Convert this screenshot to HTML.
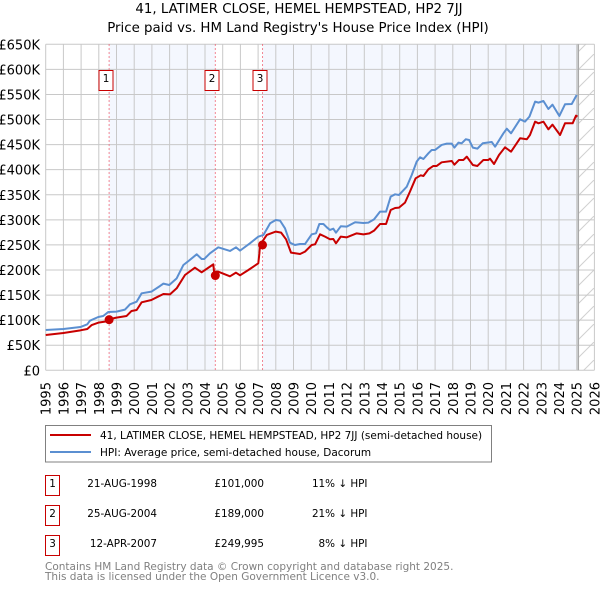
<!DOCTYPE html>
<html lang="en">
<head>
<meta charset="utf-8">
<title>41, Latimer Close price chart</title>
<style>
html,body{margin:0;padding:0;background:#fff;width:600px;height:590px;overflow:hidden}
svg{display:block;font-family:"DejaVu Sans",sans-serif}
text{fill:#000}
</style>
</head>
<body>
<svg id="chart" width="600" height="590" viewBox="0 0 600 590" xmlns="http://www.w3.org/2000/svg">
<defs>
<pattern id="hatch" patternUnits="userSpaceOnUse" width="18" height="18"><path d="M-1,19 L19,-1" stroke="#d0d0d0" stroke-width="1"/></pattern>
<clipPath id="plot-clip"><rect x="45" y="44" width="550" height="327"/></clipPath>
</defs>
<text x="299" y="13" font-size="13.35" text-anchor="middle">41, LATIMER CLOSE, HEMEL HEMPSTEAD, HP2 7JJ</text>
<text x="298" y="32" font-size="13.35" text-anchor="middle">Price paid vs. HM Land Registry's House Price Index (HPI)</text>
<g id="shade"></g>
<g id="grid"></g>
<g id="axes"></g>
<g id="series" clip-path="url(#plot-clip)"></g>
<g id="sales"></g>

<g>
<rect x="45.5" y="425.5" width="446" height="36.5" fill="#fff" stroke="#808080" stroke-width="1"/>
<line x1="50" x2="91" y1="435" y2="435" stroke="#c80000" stroke-width="2"/>
<text x="100" y="439" font-size="10.5">41, LATIMER CLOSE, HEMEL HEMPSTEAD, HP2 7JJ (semi-detached house)</text>
<line x1="50" x2="91" y1="452" y2="452" stroke="#5b8fd1" stroke-width="2"/>
<text x="100" y="456" font-size="10.5">HPI: Average price, semi-detached house, Dacorum</text>
</g>

<g font-size="10.4">
<rect x="45.5" y="475.5" width="14" height="20" fill="#fff" stroke="#c80000"/>
<text x="52.5" y="487" text-anchor="middle">1</text>
<text x="157" y="487" text-anchor="end">21-AUG-1998</text>
<text x="264" y="487" text-anchor="end">£101,000</text>
<text x="367.5" y="487" text-anchor="end">11% ↓ HPI</text>
<rect x="45.5" y="505.5" width="14" height="20" fill="#fff" stroke="#c80000"/>
<text x="52.5" y="517" text-anchor="middle">2</text>
<text x="157" y="517" text-anchor="end">25-AUG-2004</text>
<text x="264" y="517" text-anchor="end">£189,000</text>
<text x="367.5" y="517" text-anchor="end">21% ↓ HPI</text>
<rect x="45.5" y="535.5" width="14" height="20" fill="#fff" stroke="#c80000"/>
<text x="52.5" y="547" text-anchor="middle">3</text>
<text x="157" y="547" text-anchor="end">12-APR-2007</text>
<text x="264" y="547" text-anchor="end">£249,995</text>
<text x="367.5" y="547" text-anchor="end">8% ↓ HPI</text>
</g>

<text x="45" y="570" font-size="10.5" style="fill:#808080">Contains HM Land Registry data © Crown copyright and database right 2025.</text>
<text x="45" y="580" font-size="10.5" style="fill:#808080">This data is licensed under the Open Government Licence v3.0.</text>

<script>
const yearTicks = [1995,1996,1997,1998,1999,2000,2001,2002,2003,2004,2005,2006,2007,2008,2009,2010,2011,2012,2013,2014,2015,2016,2017,2018,2019,2020,2021,2022,2023,2024,2025,2026];
const valueTicks = [0,50,100,150,200,250,300,350,400,450,500,550,600,650];
const valueTickLabels = ["£0","£50K","£100K","£150K","£200K","£250K","£300K","£350K","£400K","£450K","£500K","£550K","£600K","£650K"];

const hpiDates = [1995,1996,1996.96,1997.35,1997.5,1997.97,1998.25,1998.54,1999,1999.48,1999.76,2000.14,2000.42,2000.97,2001.46,2001.65,2001.98,2002.4,2002.78,2003,2003.53,2003.81,2003.96,2004.28,2004.75,2005.41,2005.75,2005.98,2006.54,2007.01,2007.3,2007.68,2008,2008.24,2008.52,2008.8,2009.08,2009.37,2009.65,2010.03,2010.27,2010.46,2010.69,2010.88,2011.06,2011.25,2011.4,2011.67,2012.01,2012.48,2012.95,2013.23,2013.55,2013.89,2014.23,2014.49,2014.74,2014.96,2015.4,2015.68,2015.96,2016.15,2016.34,2016.62,2016.81,2017,2017.37,2017.66,2017.94,2018.09,2018.32,2018.5,2018.73,2018.92,2019.13,2019.39,2019.69,2020.2,2020.39,2020.86,2021.05,2021.29,2021.8,2022.08,2022.33,2022.65,2022.84,2023.12,2023.4,2023.63,2024.02,2024.34,2024.72,2025];
const hpiValues = [80.4,82.4,86.3,91.7,99,106.3,108.3,116.3,117,121,131.5,136.9,153.5,156.8,168.1,172.8,170.1,183.4,210,216,231.3,222,222,233.2,245.2,237.9,245.2,238.6,253.2,266.5,269.8,293.1,299.7,298.4,283.1,254.5,249.9,251.8,251.8,271.1,273.1,291.7,291.7,285.1,279.8,282.4,274.4,287.1,286.4,295.1,293.7,294.4,301,316.3,316.3,346.2,350.9,349.6,366.2,389.4,416,424.7,421.3,432.6,439.3,439.3,449.3,451.9,451.9,444,453.9,452.6,460.6,459.2,444,442,452.6,455.2,445.9,472.5,481.8,472.5,500.4,495.8,505.8,535.7,533.7,537,521,529.7,507.1,530.4,531,549];

const priceDates = [1995,1996,1996.96,1997.35,1997.6,1997.97,1998.35,1998.54,1999,1999.57,1999.85,2000.14,2000.42,2000.97,2001.27,2001.65,2002.02,2002.4,2002.87,2003.43,2003.81,2004.28,2004.47,2004.51,2004.75,2005.41,2005.75,2005.98,2006.45,2007.01,2007.07,2007.11,2007.49,2008,2008.3,2008.58,2008.86,2009.37,2009.65,2010.03,2010.22,2010.5,2010.78,2011.06,2011.25,2011.4,2011.67,2012.01,2012.57,2012.95,2013.29,2013.55,2013.89,2014.23,2014.49,2014.74,2014.96,2015.3,2015.58,2015.9,2016.19,2016.34,2016.62,2016.9,2017.09,2017.37,2017.94,2018.09,2018.35,2018.6,2018.79,2019.13,2019.39,2019.73,2020.01,2020.1,2020.33,2020.61,2020.95,2021.29,2021.8,2022.18,2022.36,2022.65,2022.84,2023.12,2023.4,2023.63,2024.06,2024.34,2024.77,2024.96,2025.04];
const priceValues = [70.4,74.4,79.7,82.4,90.3,95,97,101.6,105,108.3,118.3,120.2,135.5,140.2,145.5,152.2,151.5,163.5,190,204.7,195.4,206.7,211.3,196.7,196.7,187.4,194.7,189.4,200,213.3,232,249.9,269.8,276.5,274.5,261.2,234.6,231.9,236.6,249.9,251.2,271.1,266.5,261.2,261.8,253.2,266.5,265.1,273.1,271.1,273.1,278.4,291.7,291.7,319.6,323.6,324.3,334.3,356.2,382.8,388.8,387.4,400.7,407.4,407.4,414.7,417.4,410,419.4,419.4,426,409.4,407.4,419.4,419.4,422,411.4,429.3,444.6,436,462.6,460.6,469.2,495.8,492.5,495.8,480.5,489.8,469.2,492.5,492.5,507.8,505.8];

const saleDates = [1998.583,2004.583,2007.25];
const salePrices = [101,189,249.995];
const saleLabels = ["1","2","3"];
const dataEndDate = 2025.09;

const svgNS = "http://www.w3.org/2000/svg";
function xScale(d){ return 45.7 + (d - 1995) * 17.7; }
function yScale(v){ return 370.3 - v * 326 / 650; }
function make(tag, attrs, parent){
  const el = document.createElementNS(svgNS, tag);
  for (const k in attrs) el.setAttribute(k, attrs[k]);
  parent.appendChild(el);
  return el;
}
const shade = document.getElementById('shade');
const grid = document.getElementById('grid');
const axes = document.getElementById('axes');
const series = document.getElementById('series');
const sales = document.getElementById('sales');
const plotTop = yScale(650), plotBottom = yScale(0), plotRight = xScale(2026);

const band1 = make('rect', {x:xScale(saleDates[0]), y:plotTop, width:xScale(saleDates[1])-xScale(saleDates[0]), height:plotBottom-plotTop, fill:'#f4f7fe'}, shade);


const band2 = make('rect', {x:xScale(saleDates[2]), y:plotTop, width:xScale(dataEndDate)-xScale(saleDates[2]), height:plotBottom-plotTop, fill:'#f4f7fe'}, shade);


const hatch = make('rect', {x:xScale(dataEndDate), y:plotTop, width:plotRight-xScale(dataEndDate), height:plotBottom-plotTop, fill:'url(#hatch)'}, shade);



yearTicks.forEach(function(year){
  const gl = make('line', {x1:xScale(year), x2:xScale(year), y1:plotTop, y2:plotBottom, stroke:'#c8c8c8', 'stroke-width':1}, grid);
  
  
  const lx = xScale(year) + 5;
  const t = make('text', {x:lx, y:382, 'font-size':13, 'text-anchor':'end', transform:'rotate(-90 ' + lx + ' 382)'}, axes);
  t.textContent = year;
  
  
});
valueTicks.forEach(function(v, i){
  const gl = make('line', {x1:45.7, x2:plotRight, y1:yScale(v), y2:yScale(v), stroke:'#c8c8c8', 'stroke-width':1}, grid);
  
  
  const t = make('text', {x:40, y:yScale(v) + 5, 'font-size':13, 'text-anchor':'end'}, axes);
  t.textContent = valueTickLabels[i];
  
  
});

const endLine = make('line', {x1:xScale(dataEndDate), x2:xScale(dataEndDate), y1:plotTop, y2:plotBottom, stroke:'#a8a8a8', 'stroke-width':1.5}, grid);



function linePath(dates, values){
  return dates.map(function(d, i){ return (i ? 'L' : 'M') + xScale(d).toFixed(2) + ',' + yScale(values[i]).toFixed(2); }).join(' ');
}
saleDates.forEach(function(d){
  const vl = make('line', {x1:xScale(d), x2:xScale(d), y1:plotTop, y2:plotBottom, stroke:'#f06070', 'stroke-width':1, 'stroke-dasharray':'1.5 2.5'}, series);
  
  
});
const hpiLine = make('path', {d:linePath(hpiDates, hpiValues), fill:'none', stroke:'#5b8fd1', 'stroke-width':2, 'stroke-linejoin':'round'}, series);


const priceLine = make('path', {d:linePath(priceDates, priceValues), fill:'none', stroke:'#c80000', 'stroke-width':2, 'stroke-linejoin':'round'}, series);



saleDates.forEach(function(d, i){
  const m = make('circle', {cx:xScale(d), cy:yScale(salePrices[i]), r:4.5, fill:'#c80000'}, sales);
  
  
  const bx = Math.round(xScale(d)) - 10.5 + 0.5;
  const b = make('rect', {x:bx, y:70.5, width:14, height:20, fill:'#fff', stroke:'#c80000', 'stroke-width':1}, sales);
  
  
  const t = make('text', {x:bx + 7, y:82, 'font-size':10.4, 'text-anchor':'middle'}, sales);
  t.textContent = saleLabels[i];
  
  
});
</script>
</svg>
</body>
</html>
